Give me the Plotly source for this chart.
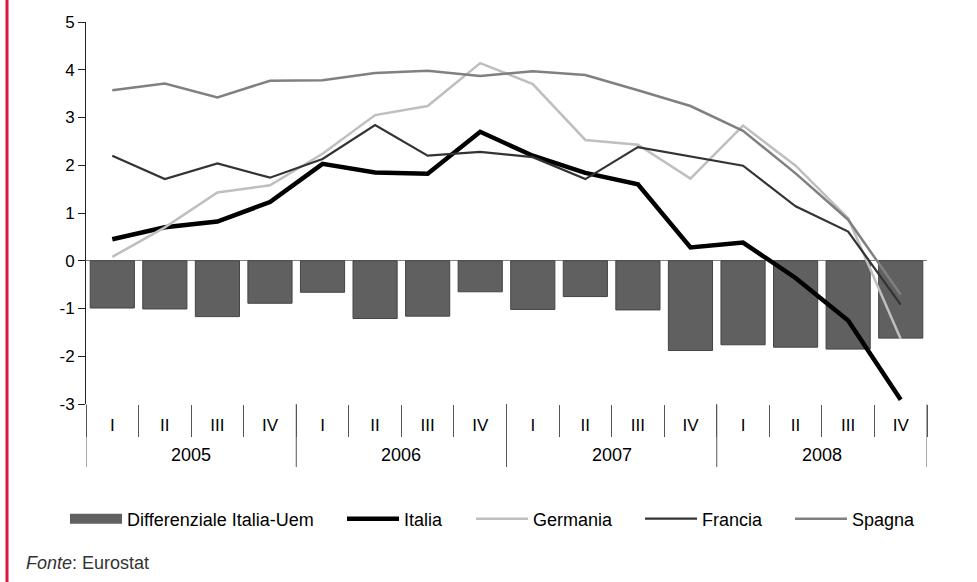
import plotly.graph_objects as go

years = ["2005", "2006", "2007", "2008"]
quarters = ["I", "II", "III", "IV"]

differenziale = [-0.99, -1.01, -1.17, -0.89, -0.66, -1.21, -1.16, -0.65,
                 -1.02, -0.75, -1.03, -1.88, -1.76, -1.81, -1.85, -1.62]
italia = [0.45, 0.70, 0.82, 1.23, 2.03, 1.85, 1.82, 2.70,
          2.20, 1.84, 1.60, 0.28, 0.38, -0.36, -1.25, -2.91]
germania = [0.08, 0.70, 1.43, 1.58, 2.24, 3.05, 3.24, 4.14,
            3.70, 2.53, 2.43, 1.72, 2.83, 1.99, 0.89, -1.64]
francia = [2.20, 1.71, 2.04, 1.74, 2.13, 2.84, 2.20, 2.28,
           2.17, 1.71, 2.38, 2.19, 1.99, 1.14, 0.61, -0.92]
spagna = [3.57, 3.71, 3.42, 3.77, 3.78, 3.93, 3.98, 3.87,
          3.97, 3.89, 3.57, 3.24, 2.72, 1.83, 0.86, -0.71]

y_ticks = [-3, -2, -1, 0, 1, 2, 3, 4, 5]

# unique category keys, displayed with the quarter numerals
x_cat = [f"{y}-{q}" for y in years for q in quarters]
x_text = [q for y in years for q in quarters]
n = len(x_cat)
nq = len(quarters)

FONT = "Liberation Sans, Arial, sans-serif"
BAR_COLOR = "#606060"
SEP_COLOR = "#555555"

# plot area geometry (px)
L, R, T, B = 86, 50, 22, 178
W, H = 977, 582
PW, PH = W - L - R, H - T - B


def px_x(p):
    return (p - L) / PW


def px_y(p):
    return (H - B - p) / PH


fig = go.Figure()

fig.add_trace(go.Bar(
    x=x_cat, y=differenziale, name="Differenziale Italia-Uem",
    marker=dict(color=BAR_COLOR, line=dict(color="#444444", width=1)),
    showlegend=False,
))
# legend entry for the bars (wide rectangle)
fig.add_trace(go.Scatter(
    x=[None], y=[None], mode="lines", name="Differenziale Italia-Uem",
    line=dict(color=BAR_COLOR, width=10), showlegend=True, legend="legend",
))

series = [
    ("Italia", italia, "#000000", 4.5, "legend2"),
    ("Germania", germania, "#bfbfbf", 2.5, "legend3"),
    ("Francia", francia, "#333333", 2.2, "legend4"),
    ("Spagna", spagna, "#808080", 2.5, "legend5"),
]
for name, vals, col, w, lg in series:
    fig.add_trace(go.Scatter(
        x=x_cat, y=vals, name=name, mode="lines",
        line=dict(color=col, width=w), legend=lg,
    ))

legend_starts = [71, 348, 477, 646, 796]
legend_y = px_y(519)
legend_common = dict(
    orientation="h", xanchor="left", y=legend_y, yanchor="middle",
    font=dict(size=18), itemwidth=52, bgcolor="rgba(0,0,0,0)",
)

# year group labels and dividers (at group boundaries of the category axis)
annotations = []
shapes = []
for i, yr in enumerate(years):
    annotations.append(dict(
        xref="x", yref="paper", x=i * nq + (nq - 1) / 2, y=px_y(455),
        xanchor="center", yanchor="middle", showarrow=False,
        text=yr, font=dict(size=18, color="#000000"),
    ))
for i in range(len(years) + 1):
    shapes.append(dict(
        type="line", xref="x", yref="paper",
        x0=i * nq - 0.5, x1=i * nq - 0.5, y0=0, y1=px_y(467),
        line=dict(color=SEP_COLOR, width=1),
    ))
shapes.append(dict(
    type="line", xref="paper", yref="paper",
    x0=px_x(7), x1=px_x(7), y0=px_y(H + 5), y1=px_y(-5),
    line=dict(color="#d9173f", width=3),
))
annotations.append(dict(
    xref="paper", yref="paper", x=px_x(24), y=px_y(563),
    xanchor="left", yanchor="middle", showarrow=False,
    text="<i>Fonte</i>: Eurostat", font=dict(size=18, color="#333333"),
))

fig.update_layout(
    width=W, height=H,
    margin=dict(l=L, r=R, t=T, b=B),
    paper_bgcolor="white", plot_bgcolor="white",
    font=dict(family=FONT, size=17, color="#000000"),
    bargap=0.16,
    showlegend=True,
    legend=dict(x=px_x(legend_starts[0] - 6), **legend_common),
    legend2=dict(x=px_x(legend_starts[1] - 6), **legend_common),
    legend3=dict(x=px_x(legend_starts[2] - 6), **legend_common),
    legend4=dict(x=px_x(legend_starts[3] - 6), **legend_common),
    legend5=dict(x=px_x(legend_starts[4] - 6), **legend_common),
    xaxis=dict(
        type="category", range=[-0.5, n - 0.5],
        tickmode="array", tickvals=x_cat, ticktext=x_text,
        showline=False, showgrid=False, zeroline=False,
        ticks="outside", tickson="boundaries", ticklen=32,
        tickcolor=SEP_COLOR, tickwidth=1,
        tickfont=dict(size=17),
        ticklabelstandoff=9,
    ),
    xaxis2=dict(
        overlaying="x", anchor="free", position=3 / 8,
        range=[-0.5, n - 0.5], showgrid=False, zeroline=False, showline=False,
        tickmode="array", tickvals=[i - 0.5 for i in range(n + 1)],
        ticks="outside", ticklen=4, tickcolor="#808080",
        showticklabels=False, side="bottom",
    ),
    yaxis=dict(
        range=[-3, 5], tickvals=y_ticks, ticktext=[str(v) for v in y_ticks],
        showline=True, linecolor="#222222", linewidth=1,
        ticks="outside", ticklen=7, tickcolor="#222222",
        showgrid=False,
        zeroline=True, zerolinecolor="#808080", zerolinewidth=1,
        tickfont=dict(size=17),
    ),
    shapes=shapes,
    annotations=annotations,
)

fig.write_html("out.html", config={"displayModeBar": False},
               post_script="document.body.style.margin='0px';")
